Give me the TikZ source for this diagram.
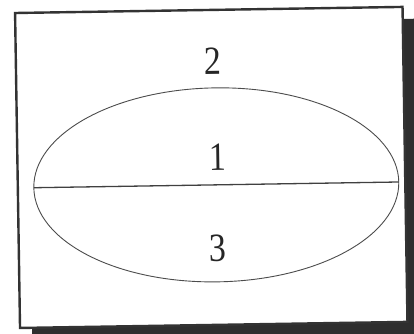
\documentclass[tikz,border=0pt]{standalone}
\usepackage{fontspec}
\setmainfont{Liberation Serif}
\begin{document}
\begin{tikzpicture}[x=1pt,y=-1pt,
  framebox/.style={draw=black!80,line width=2.4pt,fill=white},
  shadowbox/.style={fill=black!82,draw=none},
  curve/.style={draw=black!70,line width=0.9pt},
  diam/.style={draw=black!75,line width=1.3pt},
  numlabel/.style={font=\fontsize{40}{40}\selectfont,xscale=0.85,inner sep=0pt,text=black!85}]
\useasboundingbox[fill=white] (0,0) rectangle (414,333);
\begin{scope}[rotate around={0.9:(207,166)},transform shape]
  \fill[shadowbox] (29.5,22) rectangle (420,340);
  \draw[framebox] (17.5,10) rectangle (405,325);
  \draw[curve] (216,185) ellipse [x radius=182.5, y radius=97];
  \coordinate (L) at (33.5,185);
  \coordinate (R) at (398.5,185);
  \draw[diam] (L) -- (R);
  \node[numlabel] (n2) at (214.6,61) {2};
  \node[numlabel] (n1) at (218,157) {1};
  \node[numlabel] (n3) at (216.7,248) {3};
\end{scope}
\end{tikzpicture}
\end{document}
